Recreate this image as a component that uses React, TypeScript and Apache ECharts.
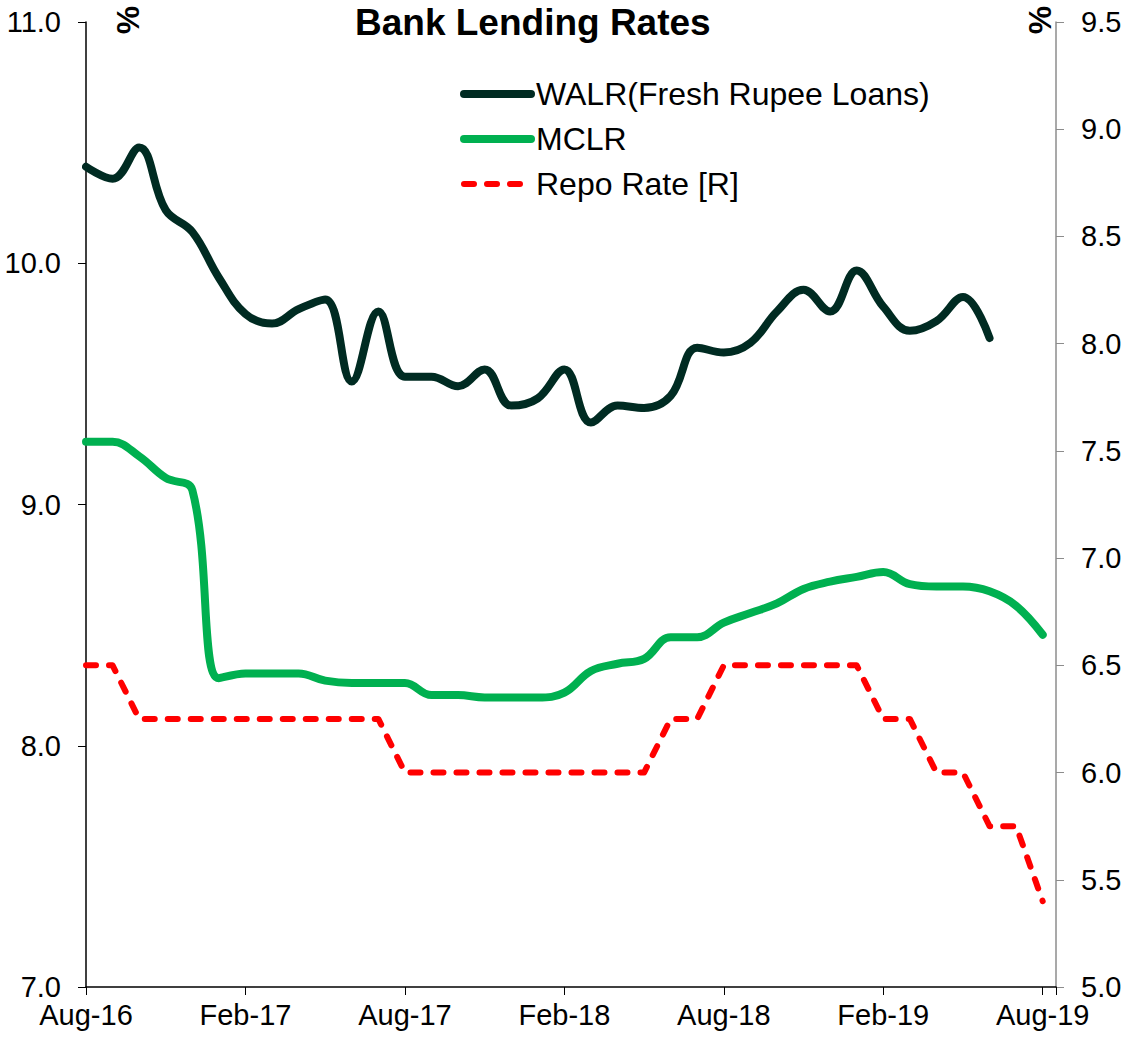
import React, { useEffect, useRef } from "react";
import * as echarts from "echarts";

const months = [
  "Aug-16", "Sep-16", "Oct-16", "Nov-16", "Dec-16", "Jan-17", "Feb-17", "Mar-17", "Apr-17", "May-17", "Jun-17", "Jul-17",
  "Aug-17", "Sep-17", "Oct-17", "Nov-17", "Dec-17", "Jan-18", "Feb-18", "Mar-18", "Apr-18", "May-18", "Jun-18", "Jul-18",
  "Aug-18", "Sep-18", "Oct-18", "Nov-18", "Dec-18", "Jan-19", "Feb-19", "Mar-19", "Apr-19", "May-19", "Jun-19", "Jul-19",
  "Aug-19",
];

const walr = [
  10.40, 10.35, 10.48, 10.22, 10.13, 9.94, 9.79, 9.75, 9.81, 9.85, 9.51, 9.80,
  9.53, 9.53, 9.49, 9.56, 9.41, 9.44, 9.56, 9.34, 9.41, 9.40, 9.45, 9.65,
  9.63, 9.67, 9.80, 9.89, 9.80, 9.97, 9.82, 9.72, 9.76, 9.86, 9.69,
];

const mclr = [
  9.26, 9.26, 9.20, 9.11, 9.06, 8.28, 8.30, 8.30, 8.30, 8.27, 8.26, 8.26,
  8.26, 8.21, 8.21, 8.20, 8.20, 8.20, 8.22, 8.31, 8.34, 8.36, 8.45, 8.45,
  8.51, 8.55, 8.59, 8.65, 8.68, 8.70, 8.72, 8.67, 8.66, 8.66, 8.64, 8.58,
  8.46,
];

const repo = [
  6.5, 6.5, 6.25, 6.25, 6.25, 6.25, 6.25, 6.25, 6.25, 6.25, 6.25, 6.25,
  6.0, 6.0, 6.0, 6.0, 6.0, 6.0, 6.0, 6.0, 6.0, 6.0, 6.25, 6.25,
  6.5, 6.5, 6.5, 6.5, 6.5, 6.5, 6.25, 6.25, 6.0, 6.0, 5.75, 5.75,
  5.40,
];

const FONT = "'Liberation Sans', Arial, sans-serif";

export default function App() {
  const ref = useRef<HTMLDivElement>(null);

  useEffect(() => {
    document.body.style.margin = "0";
    if (!ref.current) return;
    const chart = echarts.init(ref.current, null, { renderer: "svg" });

    const toPairs = (arr: number[]) => arr.map((v, i) => [i, v]);

    chart.setOption({
      animation: false,
      backgroundColor: "#ffffff",
      textStyle: { fontFamily: FONT },
      title: {
        text: "Bank Lending Rates",
        left: 350,
        top: -1,
        textStyle: { fontFamily: FONT, fontSize: 37, fontWeight: "bold", color: "#000" },
      },
      graphic: [
        {
          type: "text",
          x: 128,
          y: 20,
          rotation: Math.PI / 2,
          style: {
            text: "%",
            font: `bold 32px ${FONT}`,
            fill: "#000",
            textAlign: "center",
            textVerticalAlign: "middle",
          },
        },
        {
          type: "text",
          x: 1040,
          y: 20,
          rotation: Math.PI / 2,
          style: {
            text: "%",
            font: `bold 32px ${FONT}`,
            fill: "#000",
            textAlign: "center",
            textVerticalAlign: "middle",
          },
        },
      ],
      legend: {
        orient: "vertical",
        left: 460,
        top: 78,
        padding: 0,
        itemWidth: 67,
        itemHeight: 14,
        itemGap: 13,
        textStyle: { fontFamily: FONT, fontSize: 32, color: "#000", lineHeight: 32 },
        data: [
          {
            name: "WALR(Fresh Rupee Loans)",
            itemStyle: { opacity: 0 },
            lineStyle: { width: 8, color: "#002B22", cap: "round" },
          },
          {
            name: "MCLR",
            itemStyle: { opacity: 0 },
            lineStyle: { width: 8, color: "#00B050", cap: "round" },
          },
          {
            name: "Repo Rate [R]",
            itemStyle: { opacity: 0 },
            lineStyle: { width: 6, color: "#FF0000", type: [10, 13], cap: "round" },
          },
        ],
      },
      grid: { left: 86, right: 74, top: 22, bottom: 50, containLabel: false },
      xAxis: {
        type: "value",
        min: 0,
        max: 36.5,
        interval: 6,
        axisLine: { show: true, lineStyle: { color: "#000", width: 1.5 } },
        axisTick: { show: true, length: 8, inside: false, lineStyle: { color: "#000" } },
        splitLine: { show: false },
        axisLabel: {
          fontFamily: FONT,
          fontSize: 29,
          color: "#000",
          margin: 13,
          formatter: (v: number) => {
            const i = Math.round(v);
            return Math.abs(v - i) < 1e-6 && i % 6 === 0 ? months[i] ?? "" : "";
          },
        },
      },
      yAxis: [
        {
          type: "value",
          min: 7,
          max: 11,
          interval: 1,
          position: "left",
          axisLine: { show: true, lineStyle: { color: "#000", width: 1.5 } },
          axisTick: { show: true, length: 8, inside: false, lineStyle: { color: "#000" } },
          splitLine: { show: false },
          axisLabel: {
            fontFamily: FONT,
            fontSize: 29,
            color: "#000",
            margin: 25,
            formatter: (v: number) => v.toFixed(1),
          },
        },
        {
          type: "value",
          min: 5,
          max: 9.5,
          interval: 0.5,
          position: "right",
          axisLine: { show: true, lineStyle: { color: "#8c8c8c", width: 1.5 } },
          axisTick: { show: true, length: 8, inside: false, lineStyle: { color: "#8c8c8c" } },
          splitLine: { show: false },
          axisLabel: {
            fontFamily: FONT,
            fontSize: 29,
            color: "#000",
            margin: 25,
            formatter: (v: number) => v.toFixed(1),
          },
        },
      ],
      series: [
        {
          name: "WALR(Fresh Rupee Loans)",
          type: "line",
          yAxisIndex: 0,
          data: toPairs(walr),
          smooth: 0.4,
          showSymbol: false,
          symbol: "none",
          color: "#002B22",
          lineStyle: { width: 8, color: "#002B22", cap: "round", join: "round" },
          z: 3,
        },
        {
          name: "MCLR",
          type: "line",
          yAxisIndex: 0,
          data: toPairs(mclr),
          smooth: 0.4,
          showSymbol: false,
          symbol: "none",
          color: "#00B050",
          lineStyle: { width: 8, color: "#00B050", cap: "round", join: "round" },
          z: 2,
        },
        {
          name: "Repo Rate [R]",
          type: "line",
          yAxisIndex: 1,
          data: toPairs(repo),
          smooth: false,
          showSymbol: false,
          symbol: "none",
          color: "#FF0000",
          lineStyle: { width: 6, color: "#FF0000", type: [10, 13], cap: "round", join: "round" },
          z: 1,
        },
      ],
    });

    return () => {
      chart.dispose();
    };
  }, []);

  return <div ref={ref} style={{ width: 1130, height: 1037 }} />;
}
